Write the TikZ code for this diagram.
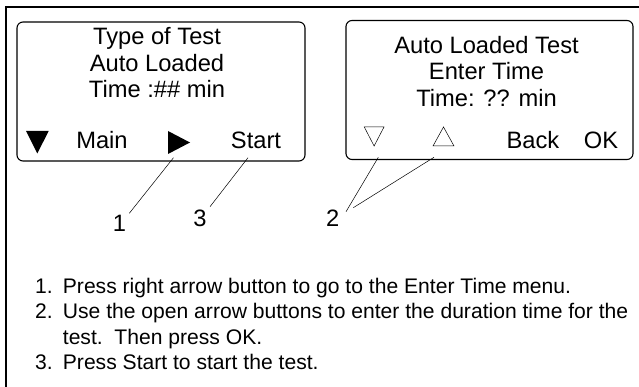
\documentclass[tikz,border=0pt]{standalone}
\usepackage{fontspec}
\setmainfont{Liberation Sans}
\tikzset{
  screen/.style={draw=black,line width=1.1pt,rounded corners=6pt,minimum height=139pt,inner sep=0pt},
  lbl/.style={font=\fontsize{23.7}{23.7}\selectfont,inner sep=0pt,anchor=base,text=black},
  leader/.style={draw=black,line width=0.5pt},
  listtxt/.style={font=\fontsize{21.1}{21.1}\selectfont,inner sep=0pt,anchor=base west,text=black},
  frameline/.style={draw=black,line width=1.7pt},
  openarrow/.style={draw=black,line width=0.5pt,fill=white},
}
\begin{document}
\begin{tikzpicture}[x=1pt,y=-1pt]
\useasboundingbox (0,0) rectangle (639,387);
\fill[white] (0,0) rectangle (639,387);
\draw[frameline] (5.7,387) -- (5.7,7.3) -- (639,7.3);
% screens
\node[screen,minimum width=288pt] (s1) at (161,91.5) {};
\node[screen,minimum width=287pt] (s2) at (489.5,90) {};
% left screen text
\node[lbl] (t1a) at (157,45) {Type of Test};
\node[lbl] (t1b) at (157,71.7) {Auto Loaded};
\node[lbl] (t1c) at (157,97.7) {Time :\#\# min};
\node[lbl] (main) at (102,149) {Main};
\node[lbl] (start) at (256,149) {Start};
\fill[black] (26,131) -- (48.7,131) -- (37.3,153.5) -- cycle;
\fill[black] (168,131) -- (190,142.5) -- (168,154) -- cycle;
% right screen text
\node[lbl] (t2a) at (486.5,53.3) {Auto Loaded Test};
\node[lbl] (t2b) at (486.5,79.3) {Enter Time};
\node[lbl] (t2c) at (486.5,106.5) {Time: ?? min};
\node[lbl] (back) at (533,148.3) {Back};
\node[lbl] (ok) at (601,148.3) {OK};
\draw[openarrow] (364.3,127) -- (384,127) -- (374.1,146) -- cycle;
\draw[openarrow] (433,146) -- (454,146) -- (443.5,127) -- cycle;
% callouts
\node[lbl] (n1) at (119.5,232) {1};
\node[lbl] (n3) at (200,226) {3};
\node[lbl] (n2) at (332.7,226) {2};
\coordinate (a1) at (173.5,157.7);
\coordinate (a3) at (248,157.7);
\coordinate (a2a) at (378.3,157.3);
\coordinate (a2b) at (434,157.3);
\coordinate (b1) at (129.3,213.3);
\coordinate (b3) at (210,206.7);
\coordinate (b2a) at (346,211.7);
\coordinate (b2b) at (353.3,207.7);
\draw[leader] (a1) -- (b1);
\draw[leader] (a3) -- (b3);
\draw[leader] (a2a) -- (b2a);
\draw[leader] (a2b) -- (b2b);
% list
\node[listtxt] (l1n) at (35,293) {1.};
\node[listtxt] (l1) at (62.7,293) {Press right arrow button to go to the Enter Time menu.};
\node[listtxt] (l2n) at (35,318.6) {2.};
\node[listtxt] (l2) at (62.7,318.6) {Use the open arrow buttons to enter the duration time for the};
\node[listtxt] (l2c) at (62.7,344.2) {test.\ \ Then press OK.};
\node[listtxt] (l3n) at (35,369.7) {3.};
\node[listtxt] (l3) at (62.7,369.7) {Press Start to start the test.};
\end{tikzpicture}
\end{document}
